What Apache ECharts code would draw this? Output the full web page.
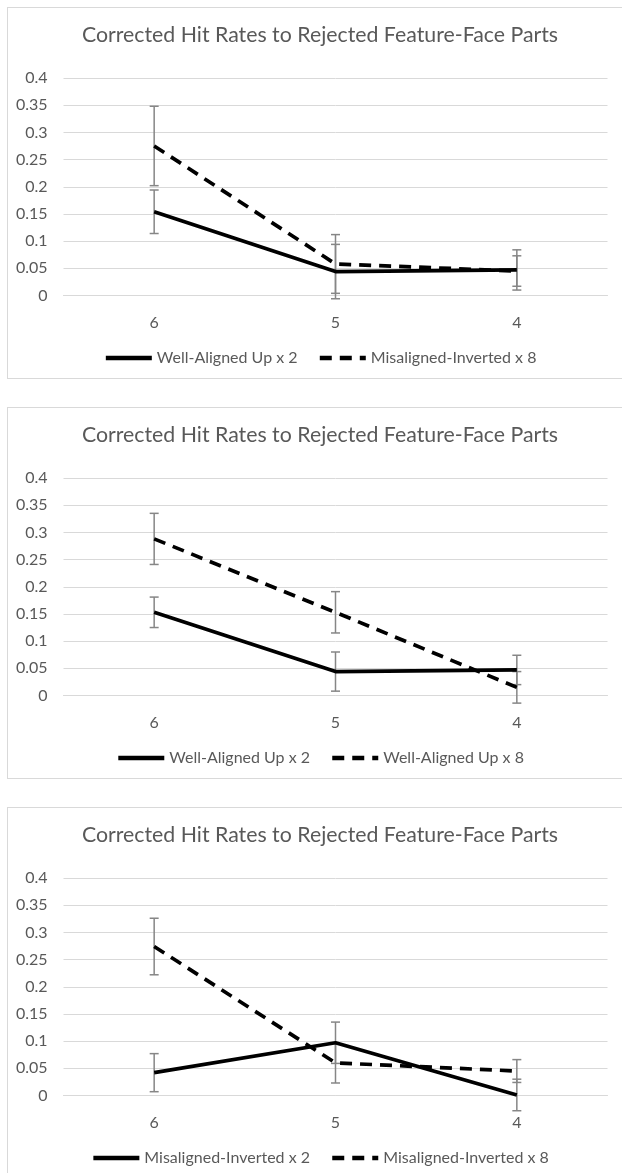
<!DOCTYPE html>
<html>
<head>
<meta charset="utf-8">
<script src="https://cdn.jsdelivr.net/npm/echarts@6/dist/echarts.min.js"></script>
<style>
  html, body { margin: 0; padding: 0; background: #fff; overflow: hidden; width: 622px; height: 1173px; }
  .panel { position: absolute; left: 7px; width: 626px; height: 372px; border: 1px solid #d9d9d9; box-sizing: border-box; background: #fff; }
</style>
</head>
<body>
<div class="panel" id="c1" style="top:7px"></div>
<div class="panel" id="c2" style="top:407px"></div>
<div class="panel" id="c3" style="top:807px"></div>
<script>
// ---- data ----
const titleText = 'Corrected Hit Rates to Rejected Feature-Face Parts';
const categories = ['6', '5', '4'];

// Panel 1
const p1Names = ['Well-Aligned Up x 2', 'Misaligned-Inverted x 8'];
const p1Solid = [0.154, 0.044, 0.047];
const p1SolidErr = [0.040, 0.050, 0.037];
const p1Dashed = [0.275, 0.058, 0.045];
const p1DashedErr = [0.073, 0.054, 0.028];

// Panel 2
const p2Names = ['Well-Aligned Up x 2', 'Well-Aligned Up x 8'];
const p2Solid = [0.153, 0.044, 0.047];
const p2SolidErr = [0.028, 0.036, 0.027];
const p2Dashed = [0.288, 0.153, 0.015];
const p2DashedErr = [0.047, 0.038, 0.029];

// Panel 3
const p3Names = ['Misaligned-Inverted x 2', 'Misaligned-Inverted x 8'];
const p3Solid = [0.042, 0.097, 0.001];
const p3SolidErr = [0.035, 0.038, 0.029];
const p3Dashed = [0.274, 0.060, 0.045];
const p3DashedErr = [0.052, 0.037, 0.021];

const yTicks = { min: 0, max: 0.4, interval: 0.05 };

// ---- rendering ----
const FONT = 'Lato';
const TXT = '#595959';
const GRID = '#d9d9d9';
const ERR = '#868686';
const DASH = [12, 8];

function errData(vals, errs) {
  return vals.map((v, i) => [i, v - errs[i], v + errs[i]]);
}

function errSeries(vals, errs) {
  return {
    type: 'custom',
    silent: true,
    clip: false,
    z: 3,
    data: errData(vals, errs),
    renderItem: function (params, api) {
      const lo = api.coord([api.value(0), api.value(1)]);
      const hi = api.coord([api.value(0), api.value(2)]);
      const hw = 4.5;
      const st = { stroke: ERR, lineWidth: 1.5 };
      return {
        type: 'group',
        children: [
          { type: 'line', shape: { x1: lo[0], y1: lo[1], x2: hi[0], y2: hi[1] }, style: st },
          { type: 'line', shape: { x1: lo[0] - hw, y1: lo[1], x2: lo[0] + hw, y2: lo[1] }, style: st },
          { type: 'line', shape: { x1: hi[0] - hw, y1: hi[1], x2: hi[0] + hw, y2: hi[1] }, style: st }
        ]
      };
    }
  };
}

function makeOption(names, solid, solidErr, dashed, dashedErr) {
  return {
    animation: false,
    textStyle: { fontFamily: FONT },
    title: {
      text: titleText, left: 'center', top: 12,
      textStyle: { fontFamily: FONT, fontSize: 21.3, fontWeight: 'normal', color: TXT }
    },
    legend: {
      bottom: 7, left: 'center',
      itemWidth: 46, itemHeight: 14, itemGap: 20,
      textStyle: { fontFamily: FONT, fontSize: 16, color: TXT },
      itemStyle: { opacity: 0 },
      lineStyle: { width: 4.5 },
      data: [names[0], names[1]]
    },
    grid: { left: 55.5, right: 24.5, top: 70, height: 217.5 },
    xAxis: {
      type: 'category', data: categories, boundaryGap: true,
      axisLine: { lineStyle: { color: GRID, width: 1 } },
      axisTick: { show: false },
      axisLabel: { fontFamily: FONT, fontSize: 16, color: TXT, margin: 19 }
    },
    yAxis: {
      type: 'value', min: yTicks.min, max: yTicks.max, interval: yTicks.interval,
      axisLine: { show: false }, axisTick: { show: false },
      splitLine: { lineStyle: { color: GRID, width: 1 } },
      axisLabel: { fontFamily: FONT, fontSize: 16, color: TXT, margin: 16,
        formatter: v => String(+(+v).toFixed(2)) }
    },
    series: [
      {
        name: names[0], type: 'line', data: solid, symbol: 'none', z: 4,
        lineStyle: { color: '#000', width: 3.7, type: 'solid', cap: 'butt' },
        itemStyle: { color: '#000' }
      },
      {
        name: names[1], type: 'line', data: dashed, symbol: 'none', z: 4,
        lineStyle: { color: '#000', width: 3.7, type: DASH, cap: 'butt' },
        itemStyle: { color: '#000' }
      },
      errSeries(solid, solidErr),
      errSeries(dashed, dashedErr)
    ]
  };
}

const c1 = echarts.init(document.getElementById('c1'));
c1.setOption(makeOption(p1Names, p1Solid, p1SolidErr, p1Dashed, p1DashedErr));
const c2 = echarts.init(document.getElementById('c2'));
c2.setOption(makeOption(p2Names, p2Solid, p2SolidErr, p2Dashed, p2DashedErr));
const c3 = echarts.init(document.getElementById('c3'));
c3.setOption(makeOption(p3Names, p3Solid, p3SolidErr, p3Dashed, p3DashedErr));
</script>
</body>
</html>
